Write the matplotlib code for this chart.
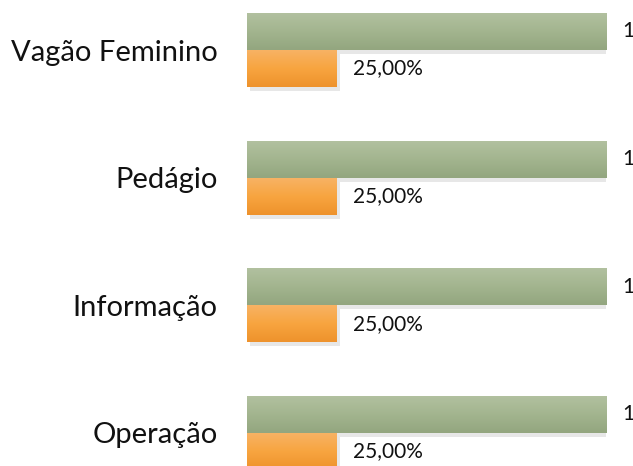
import numpy as np
import matplotlib
matplotlib.use('Agg')
import matplotlib.pyplot as plt
from matplotlib import patheffects
from matplotlib.colors import LinearSegmentedColormap

# chart data
categories = ['Vagão Feminino', 'Pedágio', 'Informação', 'Operação']
total_values = [1, 1, 1, 1]
share_values = [0.25, 0.25, 0.25, 0.25]
total_labels = ['1', '1', '1', '1']
share_labels = ['25,00%', '25,00%', '25,00%', '25,00%']

plt.rcParams['font.family'] = ['Lato', 'DejaVu Sans']

W, H = 633, 466
fig = plt.figure(figsize=(W / 100, H / 100), dpi=100)
# plot area: x=0 at 247px, x=1 at 606px
ax = fig.add_axes([247 / W, 0, (606 - 247) / W, 1])

bar_h = 0.29
pos = np.arange(len(categories))

green_cmap = LinearSegmentedColormap.from_list('g', ['#b2c1a0', '#a3b58f', '#93a67f'])
orange_cmap = LinearSegmentedColormap.from_list('o', ['#f7b366', '#f8a540', '#ee922c'])

shadow = [patheffects.SimplePatchShadow(offset=(2, -3), shadow_rgbFace='#b0b0b0', alpha=0.3),
          patheffects.Normal()]

green = ax.barh(pos - bar_h / 2, total_values, height=bar_h, color='#a3b58f',
                edgecolor='none', path_effects=shadow, zorder=2)
orange = ax.barh(pos + bar_h / 2, share_values, height=bar_h, color='#f8a540',
                 edgecolor='none', path_effects=shadow, zorder=2)

grad = np.linspace(0, 1, 64).reshape(-1, 1)
for bars, cmap in ((green, green_cmap), (orange, orange_cmap)):
    for p in bars:
        x0, y0 = p.get_x(), p.get_y()
        x1, y1 = x0 + p.get_width(), y0 + p.get_height()
        im = ax.imshow(grad, cmap=cmap, aspect='auto', extent=[x0, x1, y1, y0],
                       origin='upper', zorder=3)
        im.set_clip_path(p)

for i in range(len(categories)):
    ax.text(total_values[i] + 0.045, pos[i] - bar_h / 2, total_labels[i],
            ha='left', va='center', fontsize=15, color='#111111')
    ax.text(share_values[i] + 0.045, pos[i] + bar_h / 2, share_labels[i],
            ha='left', va='center', fontsize=15, color='#111111')

ax.set_xlim(0, 1)
ax.set_ylim((H - 50) / 127.6, -50 / 127.6)
ax.set_yticks(pos)
ax.set_yticklabels(categories, fontsize=21, color='#111111')
ax.tick_params(axis='y', length=0, pad=21)
ax.set_xticks([])
for s in ax.spines.values():
    s.set_visible(False)
ax.patch.set_alpha(0)

fig.savefig('out.png', dpi=100)
